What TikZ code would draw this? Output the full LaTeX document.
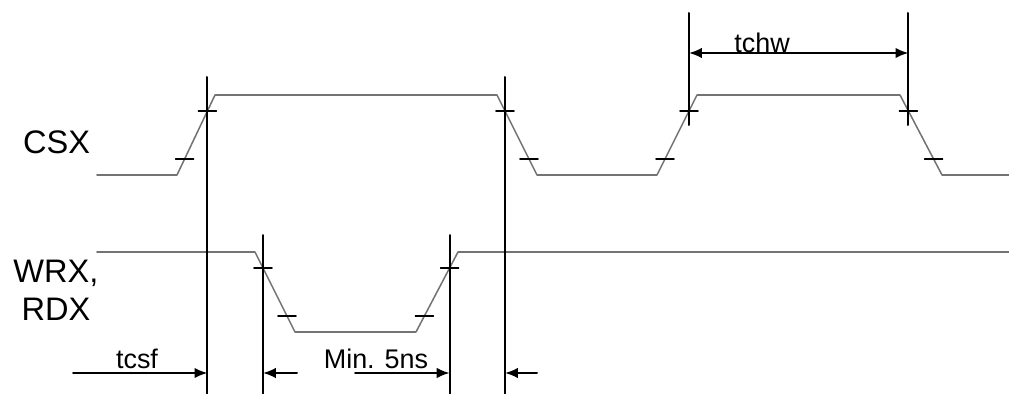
\documentclass[tikz,border=0pt]{standalone}
\usepackage{fontspec}
\setmainfont{Liberation Sans}
\usetikzlibrary{arrows.meta,calc}

\begin{document}
\begin{tikzpicture}[
  x=0.03cm, y=-0.03cm,
  line cap=round,
  line join=round,
  sig/.style={line width=1.3pt, black!55},
  tk/.style={line width=1.3pt, black},
  guide/.style={line width=1.7pt, black},
  dim/.style={line width=1.7pt, -{Latex[length=11pt,width=9pt]}},
  dimboth/.style={line width=1.7pt, {Latex[length=11pt,width=9pt]}-{Latex[length=11pt,width=9pt]}},
  lab/.style={font=\fontsize{27.8}{31.6}\selectfont, inner sep=0pt, align=center},
  tlab/.style={font=\fontsize{23}{28}\selectfont, inner sep=0pt, anchor=base}
]

\useasboundingbox (0,0) rectangle (1009,394);

% --- Levels ---
\def\cHi{95}    % CSX high
\def\cLo{175}   % CSX low
\def\wHi{252}   % WRX high
\def\wLo{332}   % WRX low

% --- CSX corners ---
\coordinate (c0) at (97,\cLo);
\coordinate (c1) at (177,\cLo);
\coordinate (c2) at (215,\cHi);
\coordinate (c3) at (497,\cHi);
\coordinate (c4) at (537,\cLo);
\coordinate (c5) at (657,\cLo);
\coordinate (c6) at (697,\cHi);
\coordinate (c7) at (900,\cHi);
\coordinate (c8) at (942,\cLo);
\coordinate (c9) at (1009,\cLo);

% --- WRX corners ---
\coordinate (w0) at (97,\wHi);
\coordinate (w1) at (255,\wHi);
\coordinate (w2) at (295,\wLo);
\coordinate (w3) at (416,\wLo);
\coordinate (w4) at (458,\wHi);
\coordinate (w5) at (1009,\wHi);

% --- Signals ---
\draw[sig] (c0)--(c1)--(c2)--(c3)--(c4)--(c5)--(c6)--(c7)--(c8)--(c9);
\draw[sig] (w0)--(w1)--(w2)--(w3)--(w4)--(w5);

% --- Ticks at 20% / 80% of every edge ---
\foreach \a/\b in {c1/c2,c3/c4,c5/c6,c7/c8,w1/w2,w3/w4}{
  \draw[tk] ($(\a)!0.2!(\b)$) ++(-9,0) -- ++(18,0);
  \draw[tk] ($(\a)!0.8!(\b)$) ++(-9,0) -- ++(18,0);
}

% --- Reference points on the edges ---
\coordinate (p1) at ($(c1)!0.8!(c2)$);
\coordinate (p2) at ($(c3)!0.2!(c4)$);
\coordinate (p3) at ($(c5)!0.8!(c6)$);
\coordinate (p4) at ($(c7)!0.2!(c8)$);
\coordinate (q1) at ($(w1)!0.2!(w2)$);
\coordinate (q2) at ($(w3)!0.8!(w4)$);

% --- Guide lines ---
\draw[guide] (p1 |- 0,77) -- (p1 |- 0,394);
\draw[guide] (p2 |- 0,77) -- (p2 |- 0,394);
\draw[guide] (p3 |- 0,13) -- (p3 |- 0,125);
\draw[guide] (p4 |- 0,13) -- (p4 |- 0,125);
\draw[guide] (q1 |- 0,235) -- (q1 |- 0,394);
\draw[guide] (q2 |- 0,235) -- (q2 |- 0,394);

% --- Dimension arrows ---
\draw[dimboth] (p3 |- 0,53) -- (p4 |- 0,53);
\draw[dim] (73,373) -- (p1 |- 0,373);
\draw[dim] (297,373) -- (q1 |- 0,373);
\draw[dim] (355,373) -- (q2 |- 0,373);
\draw[dim] (537,373) -- (p2 |- 0,373);

% --- Labels ---
\node[lab, anchor=base] (csx) at (56.5,153) {CSX};
\node[lab, anchor=base] (wrx) at (56,320) {WRX,\\RDX};
\node[tlab] (tchw) at (762,53) {tchw};
\node[tlab] (tcsf) at (137,368) {tcsf};
\node[tlab] (tmin) at (376,368) {Min. 5ns};
\end{tikzpicture}
\end{document}
